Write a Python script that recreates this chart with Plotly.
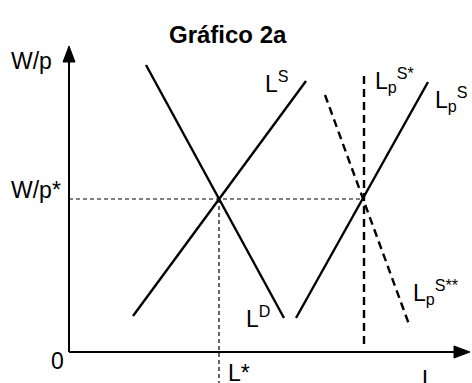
import plotly.graph_objects as go

# ---- data (model units: origin at the axes' corner) ----
LS_x = [64, 237]
LS_y = [36, 271]
LD_x = [77, 215]
LD_y = [287, 34]
LpS_x = [227, 359]
LpS_y = [34, 270]
LpS_star_x = [295, 295]
LpS_star_y = [8, 280]
LpS_2star_x = [256, 341]
LpS_2star_y = [257, 25]
L_eq = 150
W_eq = 153
Lp_eq = 294
x_axis_end = 401
y_axis_end = 306

FONT = "Liberation Sans, Arial, sans-serif"
fig = go.Figure()

def line(x, y, width=2.4, dash="solid"):
    fig.add_trace(go.Scatter(x=x, y=y, mode="lines",
                             line=dict(color="black", width=width, dash=dash),
                             hoverinfo="skip", showlegend=False))

# axes
AH = 16  # arrowhead length
AW = 6   # arrowhead half-width
line([0, 0], [0, y_axis_end - AH + 2], width=2)
line([0, x_axis_end - AH + 2], [0, 0], width=2)
fig.add_trace(go.Scatter(x=[-AW, AW, 0, -AW], y=[y_axis_end - AH, y_axis_end - AH, y_axis_end, y_axis_end - AH],
                         mode="lines", fill="toself", fillcolor="black",
                         line=dict(color="black", width=1), hoverinfo="skip", showlegend=False))
fig.add_trace(go.Scatter(x=[x_axis_end - AH, x_axis_end - AH, x_axis_end, x_axis_end - AH], y=[-AW, AW, 0, -AW],
                         mode="lines", fill="toself", fillcolor="black",
                         line=dict(color="black", width=1), hoverinfo="skip", showlegend=False))

# guide lines
line([0, Lp_eq], [W_eq, W_eq], width=1.2, dash="4px,3px")
line([L_eq, L_eq], [W_eq, -31], width=1.2, dash="4px,3px")

# curves
line(LS_x, LS_y)
line(LD_x, LD_y)
line(LpS_x, LpS_y)
line(LpS_star_x, LpS_star_y, width=2.4, dash="8px,5px")
line(LpS_2star_x, LpS_2star_y, width=2.4, dash="8px,5px")

def label(x, y, text, size=23, bold=False, xanchor="left"):
    fig.add_annotation(x=x, y=y, text=("<b>%s</b>" % text) if bold else text,
                       showarrow=False, xanchor=xanchor, yanchor="middle",
                       font=dict(family=FONT, size=size, color="black"))

label(159, 318, "Gráfico 2a", size=24, bold=True, xanchor="center")
label(-60, 291, "W/p")
label(-60, 162, "W/p*")
label(-20, -9, "0")
label(157, -21, "L*")
label(351, -27, "L")
label(194, 270, "L<sup>S</sup>")
label(304, 272, "L<sub>p</sub><sup>S*</sup>")
label(364, 253, "L<sub>p</sub><sup>S</sup>")
label(175, 35, "L<sup>D</sup>")
label(342, 60, "L<sub>p</sub><sup>S**</sup>")

fig.update_layout(
    width=472, height=383,
    margin=dict(l=0, r=0, t=0, b=0),
    paper_bgcolor="white", plot_bgcolor="white",
    xaxis=dict(range=[-69, 403], visible=False, fixedrange=True),
    yaxis=dict(range=[-31, 352], visible=False, fixedrange=True),
    showlegend=False,
)
fig.write_html("out.html", config={"displayModeBar": False},
               post_script="document.body.style.margin='0';document.body.style.overflow='hidden';")
